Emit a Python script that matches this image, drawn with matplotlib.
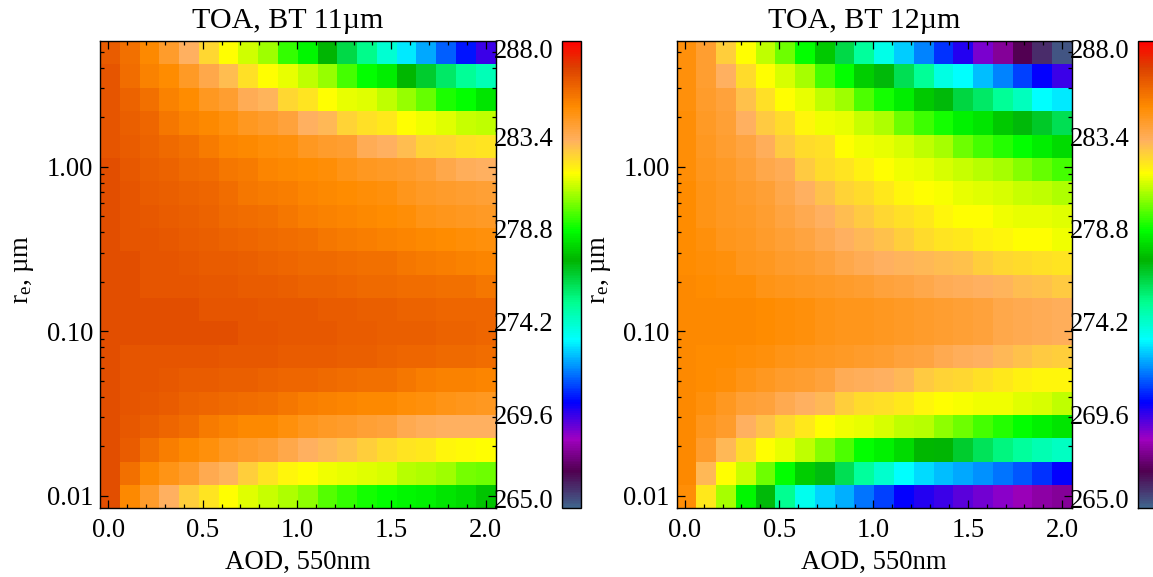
import numpy as np
import matplotlib
matplotlib.use("Agg")
import matplotlib.pyplot as plt
from matplotlib.colors import LinearSegmentedColormap, Normalize
from matplotlib.ticker import FixedLocator, FixedFormatter, NullFormatter
from matplotlib.transforms import ScaledTranslation

plt.rcParams['font.family'] = ['Liberation Serif', 'DejaVu Serif']
plt.rcParams['mathtext.fontset'] = 'custom'
plt.rcParams['mathtext.rm'] = 'Liberation Serif'
plt.rcParams['mathtext.it'] = 'Liberation Serif'

aod = [0.0084, 0.1132, 0.218, 0.3228, 0.4276, 0.5324, 0.6372, 0.742, 0.8468, 0.9516,
       1.0564, 1.1612, 1.266, 1.3708, 1.4756, 1.5804, 1.6852, 1.79, 1.8948, 1.9996]
re = [4.95, 3.57, 2.57, 1.853, 1.336, 0.963, 0.694, 0.5, 0.361, 0.26,
      0.188, 0.135, 0.0975, 0.0703, 0.0507, 0.0365, 0.0263, 0.019, 0.0137, 0.0099]

bt11 = [
 [286.0,285.4,284.8,284.0,283.1,282.3,281.5,280.95,280.4,279.2,278.5,277.2,276.2,275.2,274.0,273.0,272.2,271.3,270.4,269.5],
 [286.2,285.5,285.0,284.7,284.1,283.5,282.8,282.1,281.5,281.2,280.8,280.3,279.4,278.7,278.3,277.3,276.5,275.7,275.0,274.5],
 [286.2,285.8,285.4,285.0,284.7,284.2,283.9,283.3,283.0,282.3,282.0,281.5,281.2,281.1,280.8,280.3,279.8,279.0,278.7,278.2],
 [286.2,285.9,285.7,285.3,285.0,284.8,284.5,284.2,284.0,283.7,283.1,282.9,282.4,282.1,281.9,281.5,281.3,281.1,280.9,280.8],
 [286.2,286.0,285.8,285.6,285.4,285.2,284.9,284.8,284.6,284.5,284.2,284.0,283.9,283.3,283.1,282.8,282.4,282.3,282.1,282.0],
 [286.3,286.1,285.9,285.8,285.6,285.5,285.3,285.2,284.9,284.8,284.7,284.6,284.4,284.2,284.1,284.0,283.8,283.5,283.2,283.1],
 [286.3,286.2,286.0,285.9,285.8,285.7,285.5,285.3,285.2,285.1,284.9,284.8,284.7,284.6,284.5,284.3,284.1,284.0,283.9,283.8],
 [286.3,286.2,286.1,286.0,285.9,285.8,285.6,285.5,285.4,285.3,285.1,285.0,284.9,284.8,284.7,284.6,284.4,284.3,284.2,284.1],
 [286.3,286.2,286.2,286.1,286.0,285.9,285.8,285.7,285.6,285.5,285.4,285.3,285.2,285.1,285.0,284.9,284.8,284.7,284.6,284.5],
 [286.3,286.3,286.2,286.2,286.1,286.0,285.95,285.9,285.8,285.7,285.6,285.6,285.5,285.4,285.4,285.3,285.2,285.1,285.0,284.9],
 [286.3,286.3,286.2,286.2,286.2,286.1,286.1,286.0,286.0,285.9,285.8,285.8,285.7,285.6,285.6,285.5,285.5,285.4,285.4,285.3],
 [286.3,286.35,286.3,286.3,286.3,286.2,286.2,286.2,286.1,286.1,286.1,286.0,286.0,285.9,285.9,285.8,285.8,285.7,285.7,285.7],
 [286.3,286.3,286.3,286.3,286.3,286.3,286.3,286.2,286.2,286.1,286.1,286.1,286.0,286.0,285.9,285.9,285.9,285.8,285.8,285.7],
 [286.3,286.2,286.2,286.2,286.15,286.15,286.1,286.1,286.05,286.0,286.0,285.95,285.9,285.9,285.8,285.7,285.7,285.6,285.6,285.5],
 [286.3,286.2,286.15,286.1,286.0,286.0,285.9,285.9,285.8,285.7,285.7,285.6,285.5,285.4,285.4,285.3,285.1,285.0,285.0,284.9],
 [286.3,286.2,286.1,286.0,285.8,285.7,285.6,285.5,285.4,285.3,285.1,285.0,284.9,284.8,284.8,284.6,284.5,284.4,284.3,284.2],
 [286.3,286.1,285.9,285.7,285.5,285.2,285.0,284.8,284.8,284.5,284.3,284.1,284.0,283.8,283.7,283.4,283.2,283.1,283.1,283.1],
 [286.3,286.0,285.4,285.1,284.8,284.5,284.2,284.0,283.8,283.5,283.1,282.9,282.7,282.5,282.2,282.0,281.9,281.7,281.6,281.5],
 [286.3,285.4,284.8,284.4,284.0,283.4,283.0,282.5,282.0,281.7,281.5,281.35,281.2,281.1,281.0,280.7,280.55,280.4,280.0,279.9],
 [286.3,284.8,284.0,283.1,282.5,282.0,281.5,281.1,280.9,280.55,280.2,279.6,279.2,278.9,278.7,278.5,278.4,278.2,278.0,277.5],
]

bt12 = [
 [284.5,283.9,282.5,281.5,280.8,279.9,278.7,277.6,276.2,274.9,273.7,272.7,271.8,270.8,269.8,268.8,267.8,266.8,266.0,265.3],
 [284.5,283.9,283.1,282.2,281.5,281.0,280.5,279.4,278.7,277.7,277.1,276.0,275.0,273.8,273.3,272.5,271.8,271.0,270.2,269.5],
 [284.5,284.0,283.7,282.7,282.1,281.5,281.2,280.8,280.4,279.5,278.9,278.3,277.6,277.1,276.3,275.7,275.0,274.4,273.3,273.0],
 [284.6,284.1,283.8,283.1,282.6,282.2,281.7,281.35,281.2,280.9,280.55,279.9,279.3,278.9,278.4,278.2,277.6,277.1,276.6,276.0],
 [284.6,284.2,283.9,283.6,283.2,282.6,282.2,282.1,281.5,281.3,281.2,281.0,280.8,280.5,279.9,279.4,279.05,278.7,278.3,278.0],
 [284.6,284.3,284.1,283.8,283.5,283.3,282.6,282.2,282.0,281.8,281.5,281.35,281.2,281.0,280.9,280.65,280.5,280.1,279.75,279.4],
 [284.7,284.4,284.2,284.0,283.8,283.5,283.1,282.7,282.4,282.2,281.9,281.7,281.5,281.4,281.2,281.1,281.0,280.9,280.8,280.55],
 [284.7,284.4,284.2,284.1,283.9,283.6,283.4,283.1,282.8,282.6,282.3,282.1,281.9,281.7,281.5,281.45,281.35,281.25,281.2,281.1],
 [284.7,284.5,284.3,284.2,284.0,283.8,283.6,283.4,283.1,282.9,282.7,282.5,282.2,282.0,281.9,281.8,281.7,281.5,281.45,281.35],
 [284.7,284.6,284.5,284.3,284.2,284.0,283.9,283.7,283.5,283.3,283.1,283.0,282.9,282.8,282.7,282.5,282.3,282.2,282.1,282.0],
 [284.8,284.7,284.6,284.6,284.4,284.3,284.2,284.1,284.0,283.9,283.7,283.6,283.5,283.3,283.2,283.1,283.0,282.8,282.7,282.6],
 [284.8,284.8,284.8,284.8,284.7,284.6,284.5,284.4,284.3,284.3,284.2,284.1,284.0,283.9,283.8,283.7,283.5,283.4,283.3,283.2],
 [284.8,284.8,284.8,284.8,284.7,284.6,284.5,284.4,284.3,284.25,284.15,284.1,284.0,283.9,283.8,283.7,283.5,283.4,283.3,283.2],
 [284.8,284.7,284.7,284.6,284.5,284.4,284.3,284.2,284.1,284.0,283.9,283.7,283.6,283.4,283.2,283.1,282.9,282.7,282.6,282.5],
 [284.8,284.7,284.6,284.4,284.2,284.0,283.9,283.7,283.3,283.2,283.1,282.9,282.6,282.4,282.3,282.1,281.9,281.8,281.7,281.7],
 [284.8,284.5,284.2,283.8,283.7,283.4,283.1,282.9,282.5,282.2,282.1,281.9,281.7,281.5,281.4,281.35,281.3,281.15,281.0,280.8],
 [284.8,284.3,284.0,283.1,282.7,282.3,281.9,281.5,281.35,281.2,281.0,280.8,280.65,280.2,279.9,279.4,279.05,278.7,278.4,278.2],
 [284.8,284.0,282.9,282.2,281.5,281.2,280.8,280.1,279.5,278.7,278.4,278.0,277.3,277.2,276.5,275.9,275.4,274.9,274.6,274.3],
 [284.8,282.9,281.5,280.9,279.9,278.7,277.7,277.0,276.0,274.9,274.1,273.3,272.9,272.5,272.2,272.0,271.6,271.2,270.8,270.2],
 [284.6,281.9,280.5,278.5,277.1,275.1,273.6,272.8,272.3,271.6,271.0,270.2,269.8,269.5,269.2,268.9,268.6,268.3,268.0,267.8],
]

titles = ['TOA, BT 11µm', 'TOA, BT 12µm']
cbar_ticks = [265.0, 269.6, 274.2, 278.8, 283.4, 288.0]
y_ticks = [0.01, 0.10, 1.00]
y_ticklabels = ['0.01', '0.10', '1.00']
x_ticks = [0.0, 0.5, 1.0, 1.5, 2.0]
vmin, vmax = 265.0, 288.0

anchors = [(0.0, '#40648c'), (0.077, '#500050'), (0.146, '#a000c0'), (0.225, '#0000ff'),
           (0.36, '#00ffff'), (0.44, '#00ff90'), (0.531, '#00b400'), (0.595, '#00ff00'),
           (0.717, '#ffff00'), (0.788, '#ffb060'), (0.859, '#ff8c00'), (0.945, '#dc4000'),
           (1.0, '#ff0000')]
cmap = LinearSegmentedColormap.from_list('idl', anchors, N=256)
norm = Normalize(vmin, vmax)

W, H = 1153, 577
fig = plt.figure(figsize=(W / 100, H / 100), dpi=100)


def box(x0, y0, x1, y1):
    return [x0 / W, 1 - y1 / H, (x1 - x0) / W, (y1 - y0) / H]


def edges_x(c):
    c = np.asarray(c)
    m = (c[:-1] + c[1:]) / 2
    return np.r_[c[0] - (m[0] - c[0]), m, c[-1] + (c[-1] - m[-1])]


def edges_y(c):
    c = np.log10(np.asarray(c))
    m = (c[:-1] + c[1:]) / 2
    return 10 ** np.r_[c[0] + (c[0] - m[0]), m, c[-1] - (m[-1] - c[-1])]


lefts = [100.0, 676.5]
cb_lefts = [562.0, 1138.0]
FS = 19.2
label_shift_px = [3, 0, 0, -1, -2, 2]
for i, data in enumerate([bt11, bt12]):
    ax = fig.add_axes(box(lefts[i], 41, lefts[i] + 395.5, 508))
    m = ax.pcolormesh(edges_x(aod), edges_y(re), np.array(data), cmap=cmap, norm=norm,
                      shading='flat', linewidth=0, rasterized=True)
    ax.set_yscale('log')
    ax.yaxis.set_major_locator(FixedLocator(y_ticks))
    ax.yaxis.set_major_formatter(FixedFormatter(y_ticklabels))
    ax.yaxis.set_minor_locator(FixedLocator(
        [k * d for d in (0.01, 0.1, 1.0) for k in range(2, 10)]))
    ax.yaxis.set_minor_formatter(NullFormatter())
    ax.set_xticks(x_ticks)
    ax.set_xticklabels(['0.0', '0.5', '1.0', '1.5', '2.0'])
    ax.set_xticks(np.arange(0, 2.05, 0.1), minor=True)
    ax.tick_params(which='major', direction='in', length=6, width=0.9, top=True, right=True,
                   labelsize=FS)
    ax.tick_params(which='minor', direction='in', length=3, width=0.9, top=True, right=True)
    ax.tick_params(axis='x', which='major', pad=7)
    ax.tick_params(axis='y', which='major', pad=5)
    for s in ax.spines.values():
        s.set_linewidth(1.0)
    ax.set_title(titles[i], fontsize=21.6, pad=9.5, x=0.475)
    ax.set_xlabel('AOD, 550nm', fontsize=19.3, labelpad=5)
    ax.set_ylabel(r'$\mathrm{r_e}$, µm', fontsize=19.3, labelpad=7.5, y=0.51)

    cax = fig.add_axes(box(cb_lefts[i], 41, cb_lefts[i] + 19, 508))
    cb = fig.colorbar(m, cax=cax)
    cb.set_ticks(cbar_ticks)
    cb.set_ticklabels(['%.1f' % t for t in cbar_ticks])
    cax.yaxis.set_ticks_position('left')
    cax.tick_params(axis='y', which='major', length=0, pad=6, labelsize=FS)
    cax.tick_params(axis='y', which='minor', length=0)
    labs = cax.get_yticklabels()
    labs[0].set_va('baseline')
    labs[-1].set_va('top')
    for lab, dy in zip(labs, label_shift_px):
        if dy not in (0, 3):
            lab.set_transform(lab.get_transform() +
                              ScaledTranslation(0, dy / 100, fig.dpi_scale_trans))
    cb.outline.set_linewidth(1.0)

fig.savefig('out.png', dpi=100)
